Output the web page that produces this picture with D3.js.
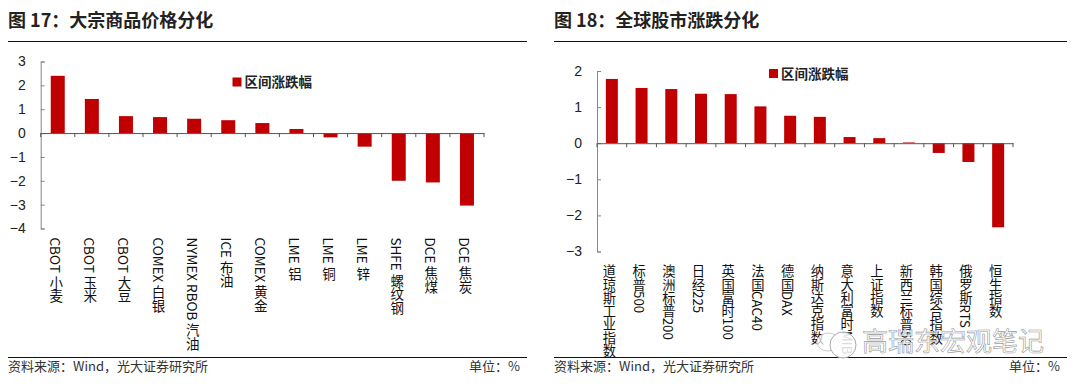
<!DOCTYPE html>
<html>
<head>
<meta charset="utf-8">
<script src="https://cdn.jsdelivr.net/npm/d3@7"></script>
<style>
body { margin: 0; background: #fff; }
svg { display: block; font-family: "Noto Sans CJK SC", "Noto Sans", sans-serif; }
</style>
</head>
<body>
<div id="chart"></div>
<script>
var commodityNames = ['CBOT 小麦','CBOT 玉米','CBOT 大豆','COMEX 白银','NYMEX RBOB 汽油','ICE 布油','COMEX 黄金','LME 铝','LME 铜','LME 锌','SHFE 螺纹钢','DCE 焦煤','DCE 焦炭'];
var commodityValues = [2.4,1.43,0.71,0.67,0.6,0.54,0.42,0.17,-0.18,-0.57,-2,-2.07,-3.04];
var commodityTicks = [3,2,1,0,-1,-2,-3,-4];

var indexNames = ['道琼斯工业指数','标普500','澳洲标普200','日经225','英国富时100','法国CAC40','德国DAX','纳斯达克指数','意大利富时MIB','上证指数','新西兰标普50','韩国综合指数','俄罗斯RTS','恒生指数'];
var indexValues = [1.78,1.53,1.5,1.37,1.36,1.02,0.76,0.73,0.17,0.14,0.02,-0.27,-0.52,-2.33];
var indexTicks = [2,1,0,-1,-2,-3];

var legendName = '区间涨跌幅';
var source = '资料来源：Wind，光大证券研究所';
var unit = '单位：%';

var svg = d3.select('#chart').append('svg').attr('width', 1080).attr('height', 389);

function drawPanel(o){
    var g = svg.append('g');

    g.append('text').attr('x', o.titleX).attr('y', 27).attr('font-size', 18).attr('font-weight', 700)
        .attr('fill', '#222').text(o.title);
    g.append('line').attr('x1', o.ruleL).attr('x2', o.ruleR).attr('y1', 41.5).attr('y2', 41.5).attr('stroke', '#111').attr('stroke-width', 1);
    g.append('line').attr('x1', o.ruleL).attr('x2', o.ruleR).attr('y1', 357.5).attr('y2', 357.5).attr('stroke', '#111').attr('stroke-width', 1);
    g.append('text').attr('x', o.ruleL).attr('y', 371).attr('font-size', 13).attr('fill', '#333').text(source);
    g.append('text').attr('x', o.ruleR - 7).attr('y', 371).attr('text-anchor', 'end').attr('font-size', 13).attr('fill', '#333').text(unit);

    var x = d3.scaleBand().domain(o.names).range(o.xRange);
    var y = d3.scaleLinear().domain(o.yDomain).range(o.yRange);

    g.selectAll('rect.bar')
        .data(o.values)
        .join('rect')
        .attr('class', 'bar')
        .attr('x', (d, i) => x(o.names[i]) + (x.bandwidth() - o.barW) / 2)
        .attr('width', o.barW)
        .attr('y', d => Math.min(y(d), y(0)))
        .attr('height', d => Math.abs(y(d) - y(0)))
        .attr('fill', '#c00000');

    // value axis
    var yAxis = d3.axisLeft(y).tickValues(o.ticks).tickSize(-4).tickPadding(15).tickFormat(d3.format('d'));
    var ya = g.append('g').attr('transform', 'translate(' + o.xRange[0] + ',0)').call(yAxis);
    ya.selectAll('line').attr('stroke', '#868686');
    ya.select('.domain').attr('stroke', '#868686');
    ya.selectAll('text').attr('font-size', 14).attr('fill', '#222');

    // category axis at zero, ticks only, labels drawn separately
    var xAxis = d3.axisBottom(x).tickValues([]).tickSize(0);
    var xa = g.append('g').attr('transform', 'translate(0,' + y(0) + ')').call(xAxis);
    xa.select('.domain').attr('stroke', '#555');
    var edges = o.names.map(n => x(n)).concat([o.xRange[1]]);
    xa.selectAll('line.edge').data(edges).join('line').attr('class', 'edge')
        .attr('x1', d => d).attr('x2', d => d).attr('y1', 0).attr('y2', 4).attr('stroke', '#555');

    g.selectAll('text.cat')
        .data(o.names)
        .join('text')
        .attr('class', 'cat')
        .attr('transform', d => 'translate(' + (x(d) + x.bandwidth() / 2 + o.labelDx) + ',' + o.labelTop + ')')
        .style('writing-mode', 'vertical-rl')
        .style('text-orientation', 'mixed')
        .attr('font-size', o.labelSize)
        .attr('fill', '#111')
        .text(d => d);

    g.append('rect').attr('x', o.legendX).attr('y', o.legendY).attr('width', 9).attr('height', 9).attr('fill', '#c00000');
    g.append('text').attr('x', o.legendX + 12).attr('y', o.legendY + 9.5).attr('font-size', 13.5).attr('font-weight', 700)
        .attr('fill', '#222').text(legendName);
}

drawPanel({
    title: '图 17：大宗商品价格分化', titleX: 8, ruleL: 8, ruleR: 527,
    names: commodityNames, values: commodityValues, ticks: commodityTicks,
    xRange: [40.7, 484], yDomain: [3, -4], yRange: [61.5, 228.5], barW: 14,
    labelTop: 237.5, labelDx: -1.5, labelSize: 13.5, legendX: 232.5, legendY: 77.5
});

drawPanel({
    title: '图 18：全球股市涨跌分化', titleX: 554, ruleL: 554, ruleR: 1067,
    names: indexNames, values: indexValues, ticks: indexTicks,
    xRange: [597, 1013], yDomain: [2, -3], yRange: [71, 251.5], barW: 12,
    labelTop: 264.5, labelDx: -2.5, labelSize: 13.3, legendX: 769, legendY: 69
});

// watermark
var wm = svg.append('g');
wm.append('ellipse').attr('cx', 828).attr('cy', 342).attr('rx', 11).attr('ry', 9).attr('fill', '#fff').attr('fill-opacity', 0.7).attr('stroke', '#ccc');
wm.append('circle').attr('cx', 843).attr('cy', 345).attr('r', 13).attr('fill', '#fff').attr('fill-opacity', 0.85).attr('stroke', '#aaa');
wm.append('text').attr('x', 862).attr('y', 351).attr('font-size', 26).attr('fill', '#fff').attr('fill-opacity', 0.8)
    .attr('stroke', '#999').attr('stroke-width', 0.6).text('高瑞东宏观笔记');
</script>
</body>
</html>
